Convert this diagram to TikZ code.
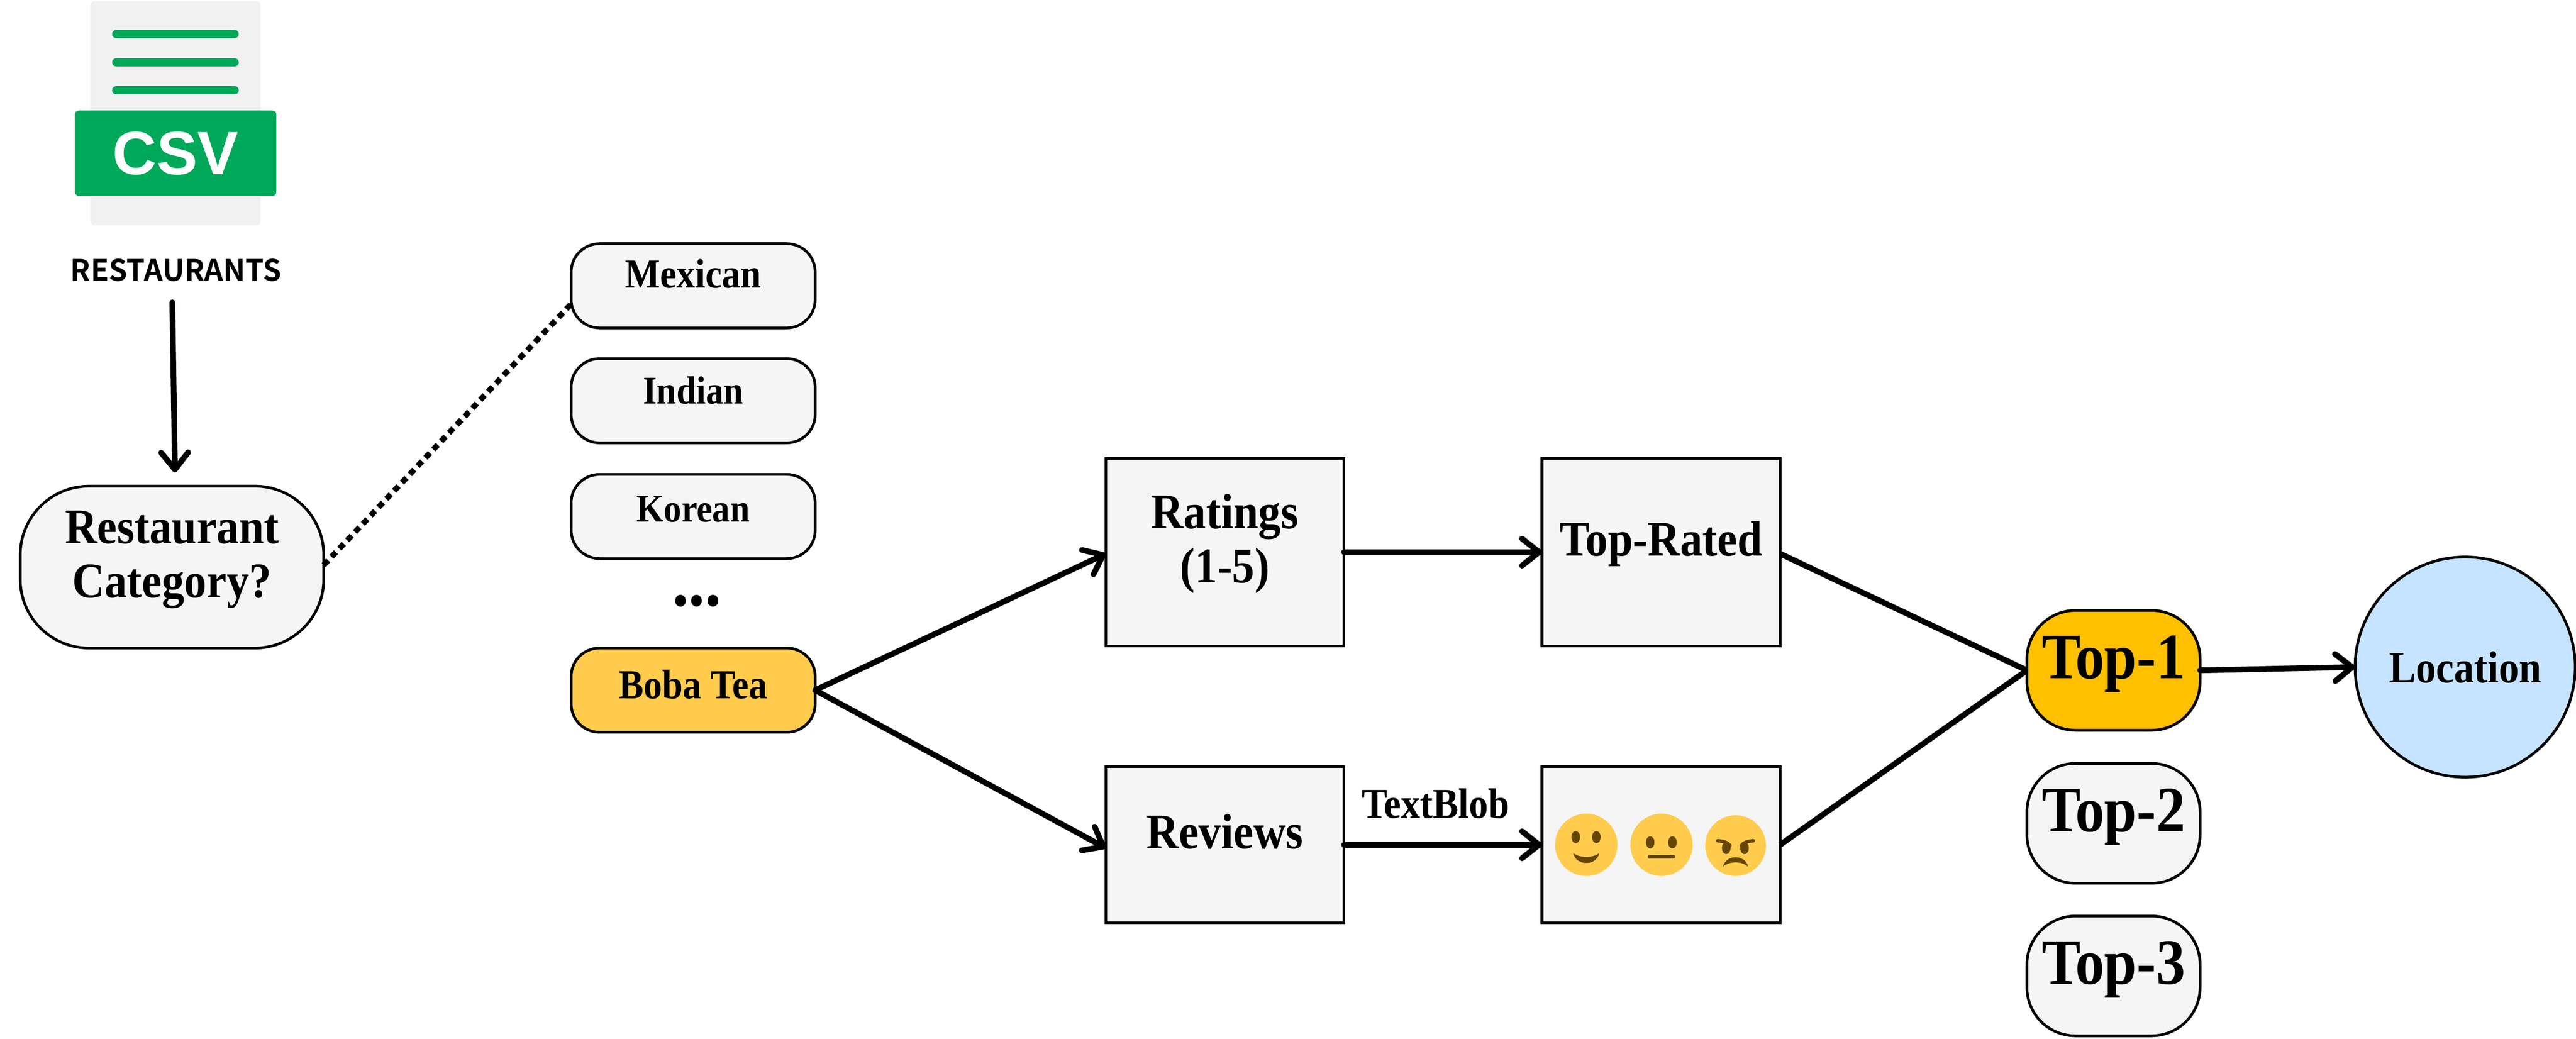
\documentclass[tikz,border=0pt]{standalone}
\usepackage{fontspec}
\setmainfont{Liberation Serif}[FakeStretch=0.9]
\newfontfamily\csvfont{Liberation Sans}
\newfontfamily\tablefont{Noto Sans CJK SC}[BoldFont={Noto Sans CJK SC Bold}]
\usetikzlibrary{arrows.meta}
\definecolor{boxgray}{HTML}{F5F5F5}
\definecolor{pagegray}{HTML}{F1F1F1}
\definecolor{csvgreen}{HTML}{00A859}
\definecolor{bobayellow}{HTML}{FFCC4D}
\definecolor{topyellow}{HTML}{FFC000}
\definecolor{locblue}{HTML}{C6E3FF}
\definecolor{faceline}{HTML}{664500}
\tikzset{
  flowbox/.style={draw,line width=1.9pt,fill=boxgray,outer sep=0pt,inner sep=0pt,align=center,font=\bfseries\fontsize{35}{38}\selectfont},
  catbox/.style={flowbox,rounded corners=0.7cm,minimum width=6.03cm,minimum height=2.08cm},
  topbox/.style={flowbox,rounded corners=1.2cm,minimum width=4.28cm,minimum height=2.96cm,font=\bfseries\fontsize{45.5}{48}\selectfont,text depth=0.66cm},
  link/.style={line width=4pt,line cap=round,-{Straight Barb[length=12pt,width=19pt,round]}},
  plainlink/.style={line width=4pt},
  face/.style={fill=bobayellow},
  facemark/.style={fill=faceline}
}
\begin{document}
\begin{tikzpicture}
\useasboundingbox (0,0) rectangle (63.66,-25.66);

%CSV ICON
\fill[pagegray,rounded corners=0.1cm] (2.23,-0.03) rectangle (6.44,-5.56);
\foreach \y in {0.84,1.54,2.23}
  \draw[csvgreen,line width=5.7pt,line cap=round] (2.87,-\y) -- (5.80,-\y);
\node[fill=csvgreen,rounded corners=0.1cm,minimum width=4.98cm,minimum height=2.11cm,inner sep=0pt,text=white,font=\csvfont\bfseries\fontsize{43}{46}\selectfont] (csv) at (4.34,-3.785) {CSV};
\node[inner sep=0pt,font=\tablefont\bfseries\fontsize{20.8}{24}\selectfont] (restaurants) at (4.35,-6.68) {RESTAURANTS};

%CATEGORY
\node[flowbox,rounded corners=1.7cm,minimum width=7.5cm,minimum height=4.0cm,text depth=0.64cm] (category) at (4.25,-14.01) {Restaurant\\Category?};

%CATEGORY LIST
\node[catbox,font=\bfseries\fontsize{29}{32}\selectfont,text depth=0.61cm] (mexican) at (17.13,-7.06) {Mexican};
\node[catbox,font=\bfseries\fontsize{27.6}{30}\selectfont,text depth=0.53cm] (indian) at (17.13,-9.9) {Indian};
\node[catbox,font=\bfseries\fontsize{27.6}{30}\selectfont,text depth=0.37cm] (korean) at (17.13,-12.76) {Korean};
\node[font=\bfseries\fontsize{51}{53}\selectfont,inner sep=0pt] (dots) at (17.22,-14.84) {...};
\node[catbox,fill=bobayellow,font=\bfseries\fontsize{29}{32}\selectfont,text depth=0.3cm] (boba) at (17.13,-17.05) {Boba Tea};

%MIDDLE BOXES
\node[flowbox,minimum width=5.89cm,minimum height=4.63cm,text depth=0.68cm] (ratings) at (30.27,-13.64) {Ratings\\(1-5)};
\node[flowbox,minimum width=5.89cm,minimum height=4.63cm,text depth=0.68cm] (toprated) at (41.05,-13.64) {Top-Rated};
\node[flowbox,minimum width=5.89cm,minimum height=3.86cm,text depth=0.68cm] (reviews) at (30.27,-20.87) {Reviews};
\node[flowbox,minimum width=5.89cm,minimum height=3.86cm] (sentiment) at (41.05,-20.87) {};
\node[inner sep=0pt,font=\bfseries\fontsize{30}{32}\selectfont] (textblob) at (35.48,-19.85) {TextBlob};

%FACES
% happy
\fill[face] (39.2,-20.87) ellipse (0.77 and 0.77);
\fill[facemark] (38.94,-20.68) ellipse (0.107 and 0.15);
\fill[facemark] (39.45,-20.68) ellipse (0.107 and 0.15);
\fill[facemark] (38.88,-21.08) .. controls (39.05,-21.2) and (39.35,-21.2) .. (39.52,-21.08) .. controls (39.45,-21.4) and (38.95,-21.4) .. cycle;
% neutral
\fill[face] (41.06,-20.87) ellipse (0.77 and 0.77);
\fill[facemark] (40.78,-20.81) ellipse (0.107 and 0.15);
\fill[facemark] (41.33,-20.81) ellipse (0.107 and 0.15);
\draw[faceline,line width=2.4pt,line cap=round] (40.76,-21.17) -- (41.36,-21.17);
% angry
\fill[face] (42.89,-20.89) ellipse (0.75 and 0.75);
\fill[facemark] (42.66,-20.95) ellipse (0.107 and 0.15);
\fill[facemark] (43.11,-20.95) ellipse (0.107 and 0.15);
\draw[faceline,line width=2.4pt,line cap=round] (42.45,-20.77) .. controls (42.6,-20.78) and (42.7,-20.82) .. (42.75,-20.89);
\draw[faceline,line width=2.4pt,line cap=round] (43.33,-20.77) .. controls (43.18,-20.78) and (43.08,-20.82) .. (43.03,-20.89);
\fill[facemark] (42.58,-21.41) .. controls (42.65,-21.1) and (43.13,-21.1) .. (43.2,-21.41) .. controls (43.05,-21.27) and (42.73,-21.27) .. cycle;

%TOP
\node[topbox,fill=topyellow] (topone) at (52.23,-16.56) {Top-1};
\node[topbox] (toptwo) at (52.23,-20.34) {Top-2};
\node[topbox] (topthree) at (52.23,-24.11) {Top-3};
\node[circle,draw,line width=1.9pt,fill=locblue,minimum size=5.44cm,inner sep=0pt,outer sep=0pt,font=\bfseries\fontsize{31.5}{34}\selectfont] (location) at (60.92,-16.48) {Location};

%LINKS
\draw[link,shorten >=0.34cm,shorten <=0.5cm] ([xshift=-0.1cm]restaurants.south) -- ([xshift=0.08cm]category.north);
\draw[line width=4pt,dash pattern=on 4.5pt off 3.5pt] ([yshift=0.05cm]category.east) -- ([yshift=-0.45cm]mexican.west);
\draw[link] (boba.east) -- ([yshift=-0.04cm]ratings.west);
\draw[link] (boba.east) -- ([yshift=-0.08cm]reviews.west);
\draw[link] (ratings.east) -- (toprated.west);
\draw[link] (reviews.east) -- (sentiment.west);
\draw[plainlink] ([yshift=-0.04cm]toprated.east) -- (topone.west);
\draw[plainlink] (sentiment.east) -- (topone.west);
\draw[link] (topone.east) -- (location.west);

\end{tikzpicture}
\end{document}
